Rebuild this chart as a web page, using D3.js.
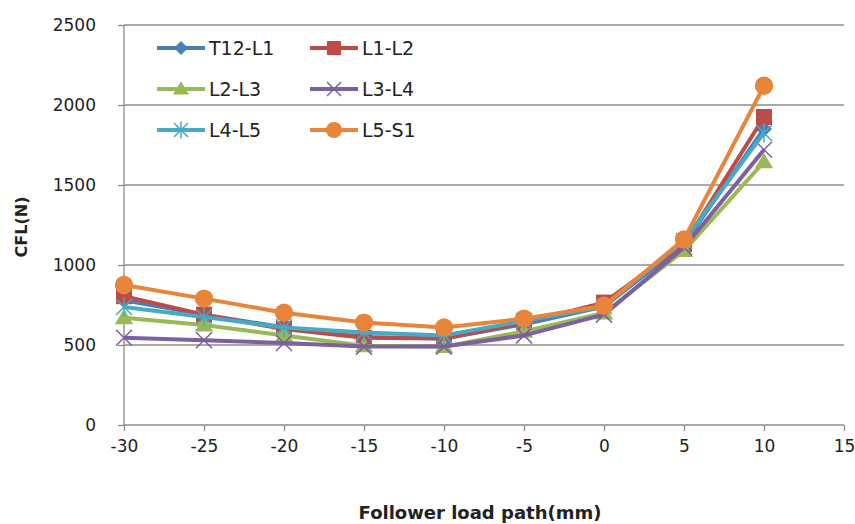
<!DOCTYPE html>
<html>
<head>
<meta charset="utf-8">
<script src="https://cdn.jsdelivr.net/npm/d3@7"></script>
<style>
  body { margin: 0; background: #fff; }
  svg text { font-family: "DejaVu Sans", Verdana, sans-serif; fill: #222; }
</style>
</head>
<body>
<div id="chart"></div>
<script>
// x positions (mm) and CFL values
const pathMm = [-30, -25, -20, -15, -10, -5, 0, 5, 10];
const xTicks = [-30, -25, -20, -15, -10, -5, 0, 5, 10, 15];
const yTicks = [0, 500, 1000, 1500, 2000, 2500];

const seriesNames = ["T12-L1", "L1-L2", "L2-L3", "L3-L4", "L4-L5", "L5-S1"];
const t12l1 = [780, 690, 610, 550, 540, 630, 740, 1130, 1850];
const l1l2  = [805, 690, 600, 545, 540, 640, 765, 1130, 1925];
const l2l3  = [670, 625, 560, 495, 490, 585, 700, 1090, 1645];
const l3l4  = [545, 530, 512, 490, 490, 560, 690, 1110, 1720];
const l4l5  = [738, 675, 610, 578, 560, 650, 742, 1150, 1825];
const l5s1  = [875, 790, 702, 640, 610, 665, 745, 1160, 2120];
const seriesValues = [t12l1, l1l2, l2l3, l3l4, l4l5, l5s1];

const colors = ["#4A7EBB", "#BE4B48", "#98B954", "#7D60A0", "#46AAC5", "#E8853A"];
const markers = ["diamond", "square", "triangle", "x", "star", "circle"];

const width = 855, height = 524;
const margin = { top: 25, right: 11, bottom: 99, left: 124 };
const innerW = width - margin.left - margin.right;
const innerH = height - margin.top - margin.bottom;

const svg = d3.select("#chart").append("svg")
    .attr("width", width)
    .attr("height", height);

const chart = svg.append("g")
    .attr("transform", `translate(${margin.left},${margin.top})`);

const x = d3.scaleLinear().domain([-30, 15]).range([0, innerW]);
const y = d3.scaleLinear().domain([0, 2500]).range([innerH, 0]);

// gridlines
chart.selectAll(".grid")
    .data(yTicks.filter(d => d > 0))
    .enter()
    .append("line")
    .attr("x1", 0).attr("x2", innerW)
    .attr("y1", d => y(d)).attr("y2", d => y(d))
    .attr("stroke", "#8c8c8c")
    .attr("stroke-width", 1.3);

// axes
const yAxis = chart.append("g")
    .call(d3.axisLeft(y).tickValues(yTicks).tickSize(6).tickPadding(22)
        .tickFormat(d => String(d)));
const xAxis = chart.append("g")
    .attr("transform", `translate(0,${innerH})`)
    .call(d3.axisBottom(x).tickValues(xTicks).tickSize(6).tickPadding(9)
        .tickFormat(d => String(d)));

[yAxis, xAxis].forEach(a => {
    a.selectAll("path, line").attr("stroke", "#8c8c8c").attr("stroke-width", 1.3);
    a.selectAll("text").style("font-size", "17px").attr("fill", "#222");
    a.select(".domain").attr("d", a === yAxis ? `M0,${innerH}V0` : `M0,0H${innerW}`);
});

// axis titles
svg.append("text")
    .attr("transform", `translate(27,${margin.top + innerH / 2 + 2}) rotate(-90)`)
    .attr("text-anchor", "middle")
    .style("font-size", "16px")
    .style("font-weight", "bold")
    .text("CFL(N)");

svg.append("text")
    .attr("x", 480)
    .attr("y", 519)
    .attr("text-anchor", "middle")
    .style("font-size", "18px")
    .style("font-weight", "bold")
    .text("Follower load  path(mm)");

function drawMarker(g, type, color, s) {
    if (type === "diamond") {
        g.append("path").attr("d", `M0,${-s}L${s},0L0,${s}L${-s},0Z`).attr("fill", color);
    } else if (type === "square") {
        g.append("rect").attr("x", -s).attr("y", -s).attr("width", 2 * s).attr("height", 2 * s).attr("fill", color);
    } else if (type === "triangle") {
        g.append("path").attr("d", `M0,${-s * 1.1}L${s * 1.15},${s * 0.8}L${-s * 1.15},${s * 0.8}Z`).attr("fill", color);
    } else if (type === "circle") {
        g.append("circle").attr("r", s * 1.15).attr("fill", color);
    } else if (type === "x") {
        g.append("path").attr("d", `M${-s},${-s}L${s},${s}M${-s},${s}L${s},${-s}`)
            .attr("stroke", color).attr("stroke-width", 1.5);
    } else if (type === "star") {
        g.append("path").attr("d", `M${-s},${-s}L${s},${s}M${-s},${s}L${s},${-s}M0,${-s * 1.2}V${s * 1.2}`)
            .attr("stroke", color).attr("stroke-width", 1.5);
    }
}

const line = d3.line()
    .x((d, i) => x(pathMm[i]))
    .y(d => y(d));

seriesValues.forEach((vals, k) => {
    const g = chart.append("g");
    g.append("path")
        .datum(vals)
        .attr("d", line)
        .attr("fill", "none")
        .attr("stroke", colors[k])
        .attr("stroke-width", 4)
        .attr("stroke-linejoin", "round");
    g.selectAll(".m")
        .data(vals)
        .enter()
        .append("g")
        .attr("transform", (d, i) => `translate(${x(pathMm[i])},${y(d)})`)
        .each(function () { drawMarker(d3.select(this), markers[k], colors[k], 8); });
});

// legend, two columns
const legend = svg.append("g");
seriesNames.forEach((name, k) => {
    const lx = 157 + (k % 2) * 153;
    const ly = 48 + Math.floor(k / 2) * 41;
    const g = legend.append("g").attr("transform", `translate(${lx},${ly})`);
    g.append("line").attr("x1", 0).attr("x2", 48).attr("y1", 0).attr("y2", 0)
        .attr("stroke", colors[k]).attr("stroke-width", 4);
    const m = g.append("g").attr("transform", "translate(24,0)");
    drawMarker(m, markers[k], colors[k], 7);
    g.append("text").attr("x", 52).attr("y", 7)
        .style("font-size", "19px")
        .text(name);
});
</script>
</body>
</html>
